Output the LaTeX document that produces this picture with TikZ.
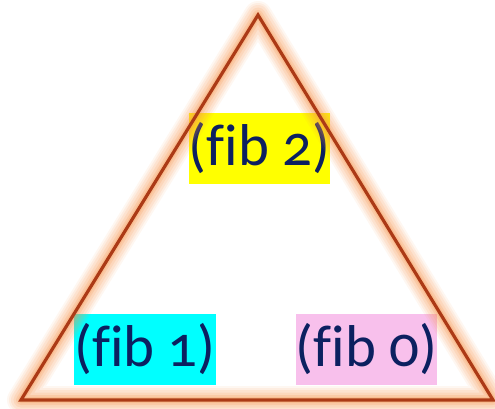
\documentclass[tikz,border=0pt]{standalone}
\usepackage{fontspec}
\setmainfont[Numbers=OldStyle,Ligatures=NoCommon]{Carlito}
\definecolor{fibtext}{RGB}{12,32,96}
\definecolor{edge}{RGB}{172,58,22}
\definecolor{halo}{RGB}{246,150,80}
\definecolor{fibyellow}{RGB}{255,255,0}
\definecolor{fibcyan}{RGB}{0,255,255}
\definecolor{fibpink}{RGB}{248,192,236}
\begin{document}
\begin{tikzpicture}[x=1pt,y=-1pt,
  fibbox/.style={inner sep=0pt,minimum height=71pt,text=fibtext,font=\fontsize{59}{66}\selectfont}]
\useasboundingbox (0,0) rectangle (495,409);
\node[fibbox,fill=fibyellow,minimum width=141pt] (fibtwo) at (259.5,148.5) {(fib 2)};
\node[fibbox,fill=fibcyan,minimum width=136pt] (fibone) at (145,349.5) {(fib 1)};
\node[fibbox,fill=fibpink,minimum width=141pt] (fibzero) at (366.5,349.5) {(fib 0)};
\coordinate (top) at (258,15); \coordinate (left) at (21,400); \coordinate (right) at (493,400);
\foreach \w/\o in {28/0.08,24/0.1,20/0.12,15/0.15,10/0.2,6/0.25}
  \draw[halo,line width=\w pt,opacity=\o,line join=round] (top)--(left)--(right)--cycle;
\draw[edge,line width=3.2pt,line join=miter] (top)--(left)--(right)--cycle;
\end{tikzpicture}
\end{document}
